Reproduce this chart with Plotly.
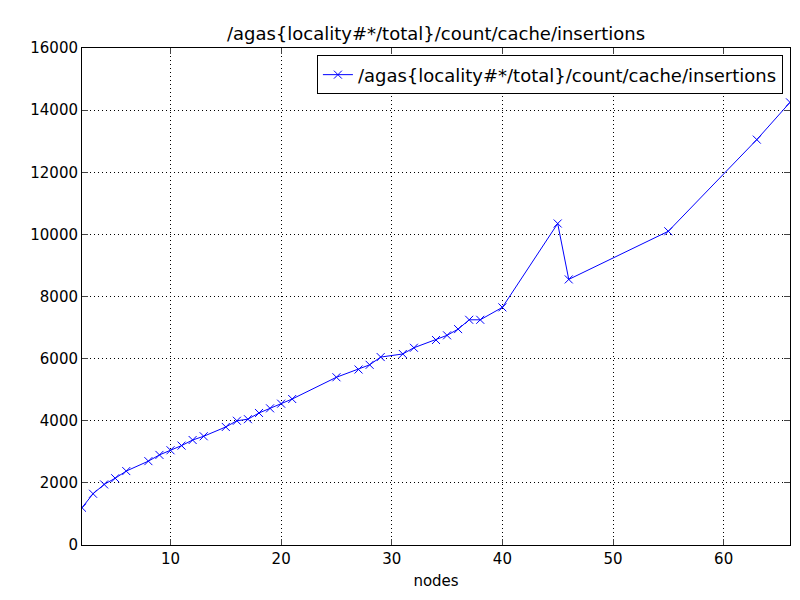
import plotly.graph_objects as go

nodes = [2, 3, 4, 5, 6, 8, 9, 10, 11, 12, 13, 15, 16, 17, 18, 19, 20, 21,
         25, 27, 28, 29, 31, 32, 34, 35, 36, 37, 38, 40, 45, 46, 55, 63, 66]
insertions = [1200, 1650, 1950, 2150, 2380, 2700, 2900, 3050, 3200, 3380, 3500,
              3800, 4000, 4050, 4250, 4400, 4550, 4700, 5400, 5650, 5800, 6050,
              6150, 6350, 6600, 6750, 6950, 7250, 7250, 7650, 10350, 8550,
              10100, 13050, 14250]
name = "/agas{locality#*/total}/count/cache/insertions"

fig = go.Figure(go.Scatter(
    x=nodes, y=insertions, mode="lines+markers", name=name,
    line=dict(color="blue", width=1),
    marker=dict(symbol="x-thin", size=8, line=dict(color="blue", width=1)),
))

axis = dict(showline=True, linecolor="black", linewidth=1, mirror="ticks",
            ticks="inside", ticklen=6, showgrid=True, gridcolor="black",
            griddash="1px,3px", gridwidth=0.5, zeroline=False,
            tickfont=dict(size=15), automargin=False)
fig.update_layout(
    width=800, height=600,
    paper_bgcolor="white", plot_bgcolor="white",
    font=dict(family="DejaVu Sans", color="black"),
    title=dict(text=name, x=0.535, xanchor="center", y=0.957, yanchor="middle",
               font=dict(size=18)),
    margin=dict(l=74, r=18, t=40, b=63, autoexpand=False),
    showlegend=True,
    legend=dict(x=0.99, y=0.985, xanchor="right", yanchor="top",
                bordercolor="black", borderwidth=1, font=dict(size=18)),
)
fig.update_xaxes(axis, range=[2, 66], dtick=10, tick0=0,
                 title=dict(text="nodes", font=dict(size=15), standoff=8))
fig.update_yaxes(axis, range=[0, 16000], dtick=2000, tickformat="d")

fig.write_html("out.html")
